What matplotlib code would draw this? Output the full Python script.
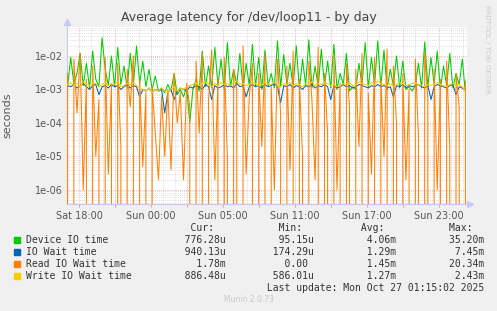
import numpy as np
import matplotlib
matplotlib.use("Agg")
import matplotlib.pyplot as plt
from matplotlib.ticker import LogLocator, MultipleLocator, FuncFormatter, NullFormatter
from matplotlib.patches import Rectangle

# values, in milliseconds (hours since Sat 18:00 on x)
device_ms = [1.2, 9, 1.5, 3, 12, 1.3, 6, 1.1, 14, 2, 1.2, 35, 4, 1.3, 10, 1.2, 18, 1.4, 5, 1.1,
             12, 1.3, 20, 1.5, 7, 1.2, 4, 1.0, 2.5, 0.9, 1.1, 0.8, 1.4, 0.9, 3, 0.7, 1.0, 0.6, 1.2, 0.1,
             1.0, 2, 0.9, 14, 1.2, 5, 1.1, 18, 1.3, 8, 1.0, 25, 1.2, 4, 1.4, 12, 1.1, 6, 1.3, 22,
             1.2, 9, 1.0, 15, 1.3, 3, 1.1, 28, 1.2, 11, 1.4, 6, 1.2, 20, 1.0, 8, 1.3, 30, 1.1, 5,
             1.2, 16, 1.3, 7, 1.1, 22, 1.0, 3, 1.4, 12, 0.9, 1.2, 1.0, 6, 1.3, 25, 1.1, 9, 1.4, 28,
             1.2, 15, 1.0, 4, 1.3, 10, 1.1, 7, 1.0, 1.2, 0.9, 1.3, 6, 1.1, 26, 1.2, 9, 1.4, 14, 1.0,
             5, 1.3, 12, 1.1, 3, 1.4, 8, 0.78]
iowait_ms = [1.3, 1.2, 1.4, 1.1, 1.3, 1.5, 1.2, 1.0, 1.3, 1.4, 0.7, 1.2, 1.3, 1.1, 1.4, 1.2, 1.3, 1.0, 1.2, 1.4,
             1.1, 1.3, 1.2, 0.6, 1.0, 0.9, 1.1, 0.8, 1.0, 0.9, 1.0, 0.2, 0.8, 1.0, 0.5, 0.9, 1.1, 1.0, 0.9, 1.2,
             1.1, 1.3, 1.2, 1.0, 1.4, 1.2, 0.5, 1.3, 1.1, 1.2, 1.4, 1.2, 1.3, 1.1, 1.5, 1.2, 1.3, 0.6, 1.2, 1.4,
             1.2, 1.3, 1.1, 1.4, 1.2, 1.3, 1.5, 1.2, 0.4, 1.3, 1.2, 1.4, 1.1, 1.3, 1.2, 1.0, 1.3, 1.2, 1.4, 1.1,
             1.3, 1.2, 1.4, 1.2, 0.5, 1.3, 1.1, 1.2, 1.4, 1.2, 1.3, 1.1, 1.2, 1.4, 1.3, 1.2, 1.1, 1.3, 1.2, 1.4,
             1.2, 1.3, 1.1, 1.2, 0.6, 1.3, 1.2, 1.4, 1.1, 1.3, 1.2, 1.3, 1.4, 1.2, 1.1, 1.3, 0.5, 1.2, 1.4, 1.3,
             1.2, 1.1, 1.3, 1.4, 0.7, 1.2, 1.1, 0.94]
read_ms = [3, 0, 8, 0.2, 12, 0.001, 2, 0, 5, 0.01, 0.5, 0, 9, 0.003, 1.5, 0, 6, 0.02, 0, 4,
           0.3, 10, 0, 2, 0.005, 0.8, 0, 1.2, 0.05, 0.002, 0.6, 0.01, 1.0, 0.004, 3, 0.1, 0.8, 0.002, 1.5, 0.3,
           0, 7, 0.05, 12, 0, 0.5, 15, 0.002, 2, 0, 9, 0.01, 0, 4, 1, 0, 20, 0.003, 0.6, 6,
           0, 3, 0.02, 11, 0, 1.2, 0.001, 8, 0.2, 0, 5, 0.004, 14, 0, 2, 0.01, 0, 7, 0.5, 0.002,
           18, 0, 3, 0.05, 0, 10, 0.001, 1.5, 0, 6, 0.3, 0, 4, 0.02, 12, 0, 0.8, 0.003, 9, 0,
           2, 0.01, 16, 0, 5, 0.1, 0, 3, 0.002, 1, 0, 8, 0.04, 0, 13, 0.5, 0, 4, 0.001, 2,
           0, 7, 0.02, 0, 3, 0.3, 0, 1.78]
write_ms = [1.4, 1.6, 1.3, 1.5, 1.2, 1.7, 1.4, 1.3, 1.6, 1.5, 1.2, 1.4, 1.6, 1.3, 1.5, 1.4, 1.7, 1.2, 1.3, 1.5,
            1.4, 1.6, 1.3, 1.1, 1.0, 0.9, 1.1, 0.8, 1.0, 0.9, 1.1, 0.9, 0.8, 1.0, 1.2, 0.9, 1.1, 1.0, 1.2, 1.3,
            1.4, 1.6, 1.3, 1.5, 1.7, 1.4, 1.2, 1.5, 1.3, 1.6, 1.4, 1.5, 1.3, 1.6, 1.8, 1.4, 1.5, 1.3, 1.4, 1.6,
            1.5, 1.3, 1.4, 1.7, 1.5, 1.4, 1.6, 1.3, 1.2, 1.5, 1.4, 1.6, 1.3, 1.5, 1.4, 1.2, 1.5, 1.4, 1.7, 1.3,
            1.5, 1.4, 1.6, 1.5, 1.3, 1.4, 1.2, 1.3, 1.5, 1.4, 1.6, 1.3, 1.4, 1.7, 1.5, 1.4, 1.3, 1.6, 1.4, 1.8,
            1.5, 1.4, 1.3, 1.5, 1.2, 1.4, 1.6, 1.5, 1.3, 1.4, 1.5, 1.6, 1.4, 1.3, 1.2, 1.4, 1.3, 1.5, 1.6, 1.4,
            1.3, 1.2, 1.4, 1.5, 1.3, 1.4, 1.2, 0.89]

names = ["Device IO time", "IO Wait time", "Read IO Wait time", "Write IO Wait time"]
colors = ["#00CC00", "#0066B3", "#FF8000", "#FFCC00"]
cur = ["776.28u", "940.13u", "1.78m", "886.48u"]
mins = ["95.15u", "174.29u", "0.00 ", "586.01u"]
avgs = ["4.06m", "1.29m", "1.45m", "1.27m"]
maxs = ["35.20m", "7.45m", "20.34m", "2.43m"]
xlabels = {0: "Sat 18:00", 6: "Sun 00:00", 12: "Sun 05:00", 18: "Sun 11:00",
           24: "Sun 17:00", 30: "Sun 23:00"}
T0, T1 = -0.95, 32.2

W, H = 497, 311
fig = plt.figure(figsize=(W / 100, H / 100), dpi=100, facecolor="#F0F0F0")
ax = fig.add_axes([67 / W, (H - 204) / H, 400 / W, 177 / H])
ax.set_facecolor("white")

for vals, c in zip([device_ms, iowait_ms, read_ms, write_ms], colors):
    v = np.array(vals) / 1000.0
    t = np.linspace(T0, T1, len(v))
    ax.plot(t, v, color=c, lw=0.75, zorder=3)

ax.set_yscale("log")
ax.set_ylim(3.8e-7, 7.3e-2)
ax.set_xlim(-1.0, 32.33)
ax.yaxis.set_major_locator(LogLocator(base=10, numticks=20))
ax.yaxis.set_minor_locator(LogLocator(base=10, subs=np.arange(2, 10), numticks=20))
ax.yaxis.set_major_formatter(FuncFormatter(lambda v, p: f"{v:.0e}"))
ax.yaxis.set_minor_formatter(NullFormatter())
ax.xaxis.set_major_locator(MultipleLocator(3))
ax.xaxis.set_minor_locator(MultipleLocator(1))
ax.xaxis.set_major_formatter(FuncFormatter(lambda v, p: xlabels.get(int(round(v)), "")))

ax.grid(which="minor", color="#d4d4d4", ls=(0, (1, 1.5)), lw=0.6, zorder=1)
ax.grid(which="major", color="#eaa0a0", ls=(0, (1, 1.5)), lw=0.6, zorder=1)
ax.tick_params(which="both", labelsize=7, labelcolor="#555555", length=0, pad=3)
ax.tick_params(axis="x", which="major", length=2, color="#eaa0a0")

for s in ["top", "right"]:
    ax.spines[s].set_visible(False)
for s in ["left", "bottom"]:
    ax.spines[s].set_color("#c8c8f0")
    ax.spines[s].set_linewidth(0.8)
ax.plot([0], [1.03], marker="^", ms=5, color="#c8c8f8", transform=ax.transAxes, clip_on=False)
ax.plot([1.008], [0], marker=">", ms=5, color="#c8c8f8", transform=ax.transAxes, clip_on=False)

ax.set_ylabel("seconds", fontsize=8, color="#555555")
ax.yaxis.set_label_coords(-55 / 400, 0.5)
fig.text(248.5 / W, 1 - 18 / H, "Average latency for /dev/loop11 - by day",
         ha="center", va="center", fontsize=9, color="#444444")
fig.text(487 / W, 1 - 5 / H, "RRDTOOL / TOBI OETIKER", rotation=270, ha="center", va="top",
         fontsize=5, color="#cccccc")

mono = dict(family="DejaVu Sans Mono", fontsize=7, color="#333333", va="center", ha="left")
header = f"{'':26}{'Cur:':>6}{'Min:':>15}{'Avg:':>14}{'Max:':>15}"
fig.text(26 / W, 1 - 228 / H, header, **mono)
for i, n in enumerate(names):
    y = 240 + 12 * i
    row = f"{n:<26}{cur[i]:>8}{mins[i]:>15}{avgs[i]:>14}{maxs[i]:>15}"
    fig.text(26 / W, 1 - y / H, row, **mono)
    fig.patches.append(Rectangle((14 / W, 1 - (y + 3) / H), 6 / W, 6 / H,
                                 transform=fig.transFigure, color=colors[i]))
fig.text(26 / W, 1 - 288 / H, " " * 41 + "Last update: Mon Oct 27 01:15:02 2025", **mono)
fig.text(248.5 / W, 1 - 300 / H, "Munin 2.0.73", ha="center", va="center",
         fontsize=5.5, color="#c8c8c8")

fig.savefig("out.png", dpi=100, facecolor=fig.get_facecolor())
